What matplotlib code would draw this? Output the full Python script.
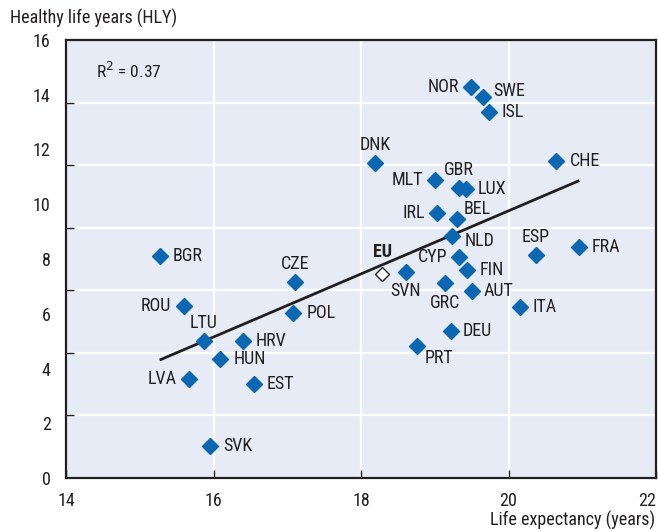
import numpy as np
import matplotlib
matplotlib.use("Agg")
import matplotlib.pyplot as plt
from matplotlib.ticker import FixedLocator

plt.rcParams['font.family'] = ['Roboto Condensed', 'Arial Narrow', 'Liberation Sans Narrow',
                               'Roboto', 'DejaVu Sans']

countries = ["BGR", "ROU", "LTU", "CZE", "POL", "HRV", "HUN", "LVA", "EST", "SVK",
             "NOR", "SWE", "ISL", "DNK", "CHE", "MLT", "GBR", "LUX", "IRL", "BEL",
             "NLD", "ESP", "FRA", "CYP", "SVN", "FIN", "GRC", "AUT", "ITA", "DEU", "PRT"]
life_exp = [15.27, 15.60, 15.87, 17.11, 17.08, 16.40, 16.09, 15.67, 16.55, 15.95,
            19.49, 19.65, 19.74, 18.19, 20.65, 19.00, 19.33, 19.42, 19.03, 19.30,
            19.24, 20.37, 20.96, 19.33, 18.61, 19.44, 19.14, 19.51, 20.16, 19.22, 18.76]
hly = [8.11, 6.29, 5.00, 7.15, 6.02, 5.02, 4.34, 3.60, 3.42, 1.18,
       14.27, 13.93, 13.38, 11.52, 11.59, 10.89, 10.60, 10.57, 9.67, 9.47,
       8.84, 8.15, 8.43, 8.06, 7.54, 7.60, 7.14, 6.83, 6.26, 5.38, 4.82]
eu_label = "EU"
eu_life_exp = 18.29
eu_hly = 7.44
r2_text = "R$^2$ = 0.37"
x_ticks = [14, 16, 18, 20, 22]
y_ticks = [0, 2, 4, 6, 8, 10, 12, 14, 16]

# label placement: (dx, dy in pixels, ha, va)
place = {
    "BGR": (13, 0, 'left', 'center'), "ROU": (-13, 0, 'right', 'center'),
    "LTU": (0, 18, 'center', 'center'), "CZE": (0, 18, 'center', 'center'),
    "POL": (13, 0, 'left', 'center'), "HRV": (13, 0, 'left', 'center'),
    "HUN": (13, 0, 'left', 'center'), "LVA": (-13, 0, 'right', 'center'),
    "EST": (13, 0, 'left', 'center'), "SVK": (13, 0, 'left', 'center'),
    "NOR": (-12, 0, 'right', 'center'), "SWE": (11, 6, 'left', 'center'),
    "ISL": (12, 0, 'left', 'center'), "DNK": (0, 18, 'center', 'center'),
    "CHE": (13, 0, 'left', 'center'), "MLT": (-12, 0, 'right', 'center'),
    "GBR": (0, 18, 'center', 'center'), "LUX": (12, 0, 'left', 'center'),
    "IRL": (-12, 0, 'right', 'center'), "BEL": (7, 10, 'left', 'center'),
    "NLD": (12, -5, 'left', 'center'), "ESP": (0, 18, 'center', 'center'),
    "FRA": (12, 0, 'left', 'center'), "CYP": (-12, 0, 'right', 'center'),
    "SVN": (0, -19, 'center', 'center'), "FIN": (12, 0, 'left', 'center'),
    "GRC": (0, -20, 'center', 'center'), "AUT": (11, 0, 'left', 'center'),
    "ITA": (12, 0, 'left', 'center'), "DEU": (12, 0, 'left', 'center'),
    "PRT": (8, -12, 'left', 'center'),
}

BLUE = '#0b67b2'
BG = '#e6ebf6'
DARK = '#231f20'
FS = 13

fig = plt.figure(figsize=(6.58, 5.31), dpi=100)
ax = fig.add_axes([66/658, 53/531, 590/658, 438/531])
ax.set_facecolor(BG)
ax.set_xlim(14, 22)
ax.set_ylim(0, 16)

# grid (y gridlines divide the area into 7 bands, as in the original)
ax.xaxis.set_major_locator(FixedLocator(x_ticks))
ax.yaxis.set_major_locator(FixedLocator(y_ticks))
ax.yaxis.set_minor_locator(FixedLocator([16 * k / 7 for k in range(1, 7)]))
ax.grid(True, axis='x', which='major', color='white', linewidth=1.6)
ax.grid(True, axis='y', which='minor', color='white', linewidth=1.6)
ax.set_axisbelow(True)
ax.tick_params(axis='y', which='major', length=0, labelsize=FS, pad=11, colors=DARK)
ax.tick_params(axis='y', which='minor', length=6, width=1, direction='in', color=DARK)
ax.tick_params(axis='x', which='major', length=6, width=1, direction='in', labelsize=FS,
               pad=10, colors=DARK)
ax.set_xticklabels([str(v) for v in x_ticks])
ax.get_xticklabels()[-1].set_ha('right')
ax.get_xticklabels()[-1].set_x(22)
for s in ax.spines.values():
    s.set_color(DARK)
    s.set_linewidth(1.6)

# regression line
x = np.array(life_exp)
y = np.array(hly)
slope, icpt = np.polyfit(x, y, 1)
xl = np.array([x.min(), x.max()])
ax.plot(xl, slope * xl + icpt, color=DARK, linewidth=2.0, zorder=2, solid_capstyle='butt')

ax.plot(x, y, linestyle='none', marker='D', markersize=8.5, color=BLUE,
        markeredgecolor=BLUE, zorder=3)
ax.plot([eu_life_exp], [eu_hly], linestyle='none', marker='D', markersize=7.5,
        markerfacecolor='white', markeredgecolor=DARK, markeredgewidth=1.0, zorder=4)

for c, xv, yv in zip(countries, life_exp, hly):
    dx, dy, ha, va = place[c]
    ax.annotate(c, (xv, yv), xytext=(dx, dy), textcoords='offset pixels',
                ha=ha, va=va, fontsize=FS, color=DARK, zorder=5)
ax.annotate(eu_label, (eu_life_exp, eu_hly), xytext=(0, 22), textcoords='offset pixels',
            ha='center', va='center', fontsize=FS, fontweight='bold', color=DARK)

ax.text(96/658, 460/531, r2_text, transform=fig.transFigure, fontsize=FS - 0.5,
        color=DARK, ha='left', va='center')
fig.text(10/658, 513/531, "Healthy life years (HLY)", fontsize=FS, color=DARK,
         ha='left', va='center')
fig.text(655/658, 11/531, "Life expectancy (years)", fontsize=FS, color=DARK,
         ha='right', va='center')

fig.savefig('out.png', dpi=100)
